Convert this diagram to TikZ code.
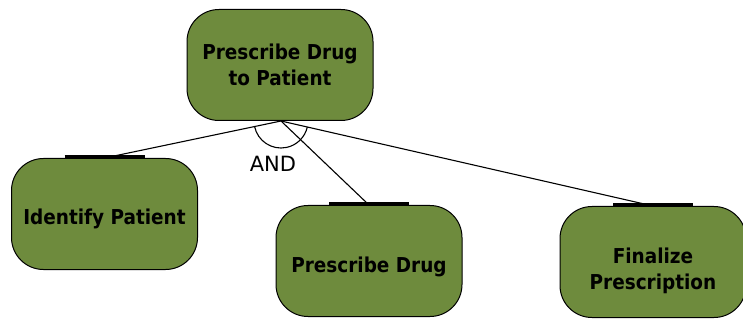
\documentclass[tikz,border=0pt]{standalone}
\usepackage{fontspec}
\setmainfont{DejaVu Sans}
\newfontfamily\boxfont{DejaVu Sans Condensed}
\usetikzlibrary{calc}
\definecolor{olive}{RGB}{110,139,61}
\tikzset{
  goal/.style={rectangle, rounded corners=32pt, draw=black, line width=1pt,
    fill=olive, minimum width=186pt, minimum height=111pt, align=center,
    font=\boxfont\bfseries\fontsize{20.5pt}{26pt}\selectfont, inner sep=2pt},
  link/.style={draw=black, line width=1.1pt},
  bar/.style={draw=black, line width=3pt}
}
\begin{document}
\begin{tikzpicture}[x=1pt,y=-1pt]
  \useasboundingbox (0,0) rectangle (743,320);
  \fill[white] (0,0) rectangle (743,320);

  \node[goal, text height=46pt, text depth=4.4pt] (root) at (280,65) {Prescribe Drug\\to Patient};
  \node[goal, text height=25pt, text depth=5pt] (ip) at (104.5,214) {Identify Patient};
  \node[goal, text height=27pt, text depth=5pt] (pd) at (369,261) {Prescribe Drug};
  \node[goal, text height=58pt, text depth=4pt] (fp) at (653,262) {Finalize\\Prescription};

  \coordinate (j) at (281,121);

  % decomposition links
  \draw[link] (j) -- (ip.north);
  \draw[link] (j) -- (pd.north);
  \draw[link] (j) -- (fp.north);

  % bars on top of the sub-goals
  \foreach \n in {ip,pd,fp}
    \draw[bar] ([xshift=-40pt,yshift=1pt]\n.north) -- ([xshift=40pt,yshift=1pt]\n.north);

  % AND arc
  \draw[link] ([shift={(191.6:27pt)}]j) arc[start angle=191.6, end angle=347.2, radius=27pt];
  \node[font=\fontsize{21pt}{24pt}\selectfont] (and) at (273,164) {AND};
\end{tikzpicture}
\end{document}
